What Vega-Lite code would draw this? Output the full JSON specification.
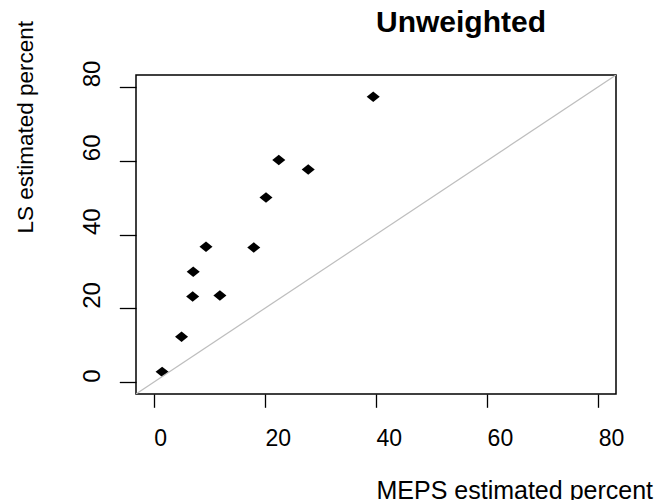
{
  "$schema": "https://vega.github.io/schema/vega-lite/v6.json",
  "width": 480,
  "height": 319,
  "autosize": {"type": "none"},
  "padding": {"left": 136, "top": 75, "right": 56, "bottom": 106},
  "background": "white",
  "title": {
    "text": "Unweighted",
    "font": "Liberation Sans",
    "fontSize": 30,
    "fontWeight": "bold",
    "color": "black",
    "anchor": "start",
    "frame": "group",
    "dx": 240,
    "baseline": "alphabetic",
    "offset": -42
  },
  "config": {
    "view": {"stroke": "black", "strokeWidth": 1.5},
    "axis": {
      "grid": false,
      "domain": false,
      "tickColor": "black",
      "tickWidth": 1.3,
      "labelColor": "black",
      "labelFont": "Liberation Sans",
      "labelFontSize": 23,
      "titleFont": "Liberation Sans",
      "titleFontWeight": "normal",
      "titleColor": "black"
    }
  },
  "layer": [
    {
      "data": {
        "values": [
          {"meps": 1.5, "ls": 2.8},
          {"meps": 5.0, "ls": 12.3},
          {"meps": 7.0, "ls": 23.2},
          {"meps": 7.1, "ls": 29.9},
          {"meps": 11.9, "ls": 23.5},
          {"meps": 9.4, "ls": 36.7},
          {"meps": 18.0, "ls": 36.5},
          {"meps": 20.2, "ls": 50.0},
          {"meps": 22.5, "ls": 60.2},
          {"meps": 27.8, "ls": 57.6},
          {"meps": 39.5, "ls": 77.3}
        ]
      },
      "mark": {"type": "point", "filled": true, "color": "black", "opacity": 1, "shape": "M-1,0L0,-0.8L1,0L0,0.8Z", "size": 170},
      "encoding": {
        "x": {
          "field": "meps", "type": "quantitative",
          "scale": {"domain": [-3.2, 83.2], "nice": false, "zero": false},
          "axis": {
            "values": [0, 20, 40, 60, 80],
            "tickSize": 13.3,
            "labelAlign": "left",
            "labelBaseline": "alphabetic",
            "labelPadding": 37.7,
            "labelFlush": false,
            "title": "MEPS estimated percent",
            "titleFontSize": 25,
            "titleAlign": "left",
            "titleBaseline": "alphabetic",
            "titleX": 240,
            "titleY": 104
          }
        },
        "y": {
          "field": "ls", "type": "quantitative",
          "scale": {"domain": [-3.2, 83.2], "nice": false, "zero": false},
          "axis": {
            "values": [0, 20, 40, 60, 80],
            "tickSize": 16.7,
            "labelAngle": 270,
            "labelAlign": "left",
            "labelBaseline": "alphabetic",
            "labelPadding": 20.3,
            "labelFontSize": 24,
            "labelFlush": false,
            "title": "LS estimated percent",
            "titleFontSize": 22.5,
            "titleAngle": 270,
            "titleAlign": "left",
            "titleBaseline": "alphabetic",
            "titleX": -104,
            "titleY": 158
          }
        }
      }
    },
    {
      "data": {"values": [{"x": -3.2, "y": -3.2, "x2": 83.2, "y2": 83.2}]},
      "mark": {"type": "rule", "color": "#bebebe", "strokeWidth": 1.2, "clip": true},
      "encoding": {
        "x": {"field": "x", "type": "quantitative"},
        "y": {"field": "y", "type": "quantitative"},
        "x2": {"field": "x2"},
        "y2": {"field": "y2"}
      }
    }
  ]
}
